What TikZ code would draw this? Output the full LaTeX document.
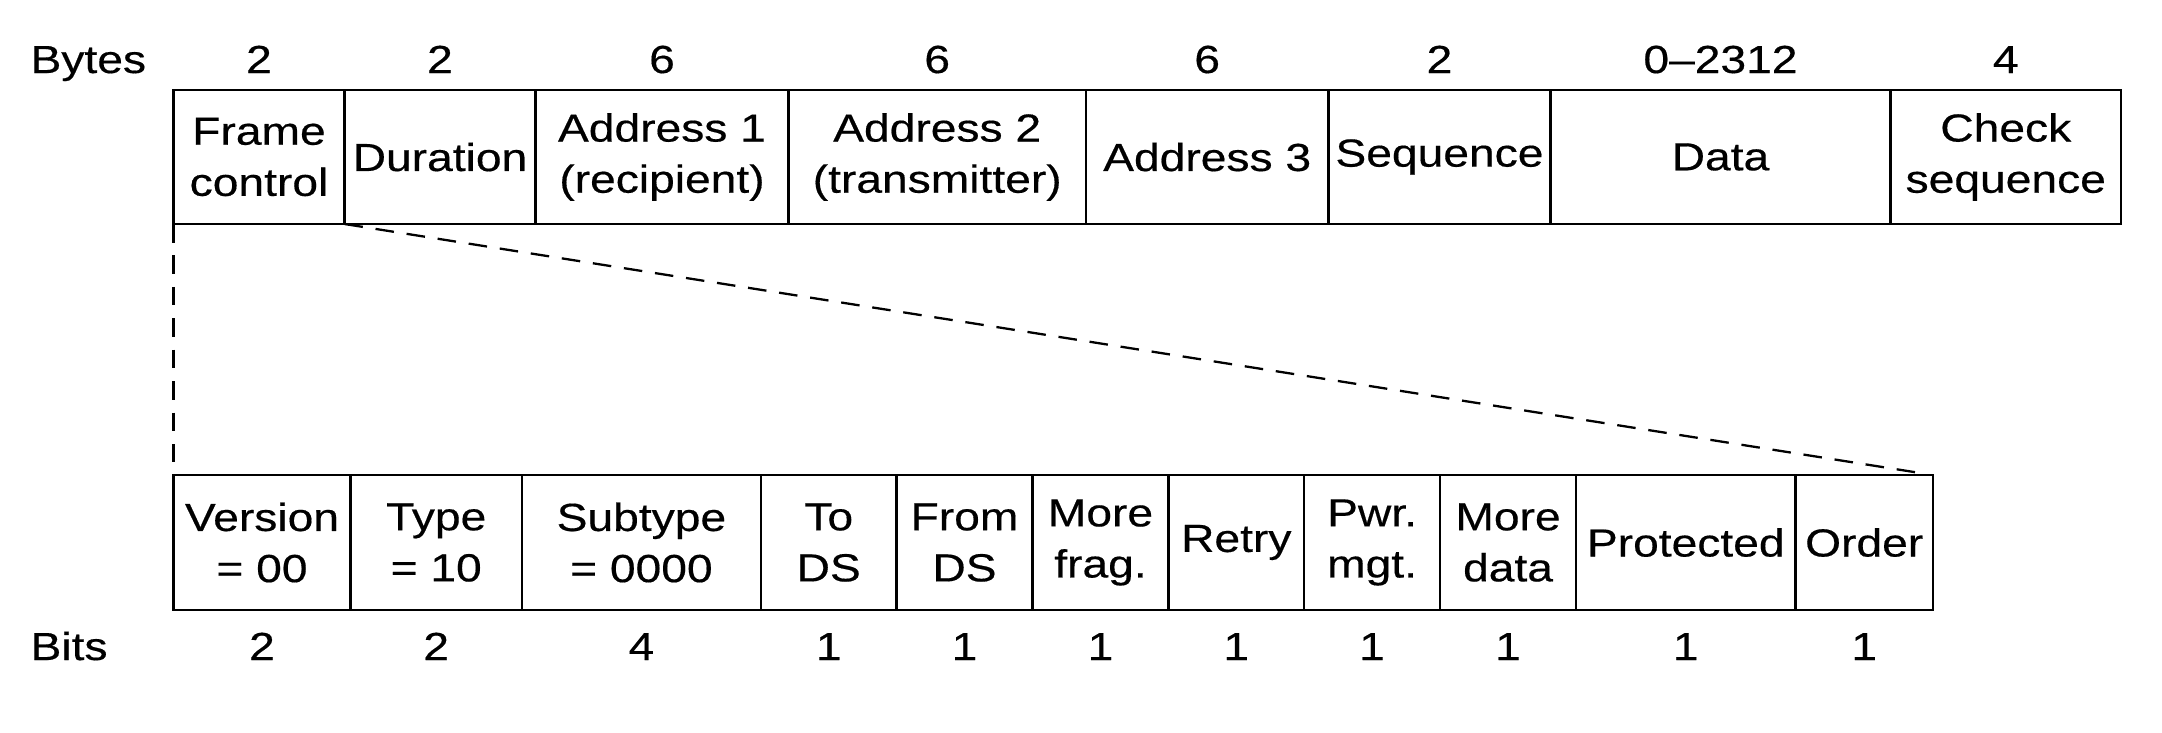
\documentclass[tikz,border=0pt]{standalone}
\usepackage{fontspec}
\setmainfont{Liberation Sans}[FakeStretch=1.18, FakeBold=0.4]

\tikzset{
  every node/.style={font=\fontsize{13.7}{17.9}\selectfont},
  field/.style={draw, line width=0.9pt, inner sep=0pt, outer sep=0pt,
    align=center, anchor=north west},
  toprow/.style={field, minimum height=46.9pt},
  botrow/.style={field, minimum height=47.25pt},
  num/.style={anchor=base, inner sep=0pt},
  dashline/.style={line width=0.8pt, dash pattern=on 6.5pt off 4.5pt}
}

\begin{document}
\begin{tikzpicture}[x=0.35pt, y=-0.35pt]
\useasboundingbox (0,0) rectangle (2162,732);
\coordinate (bytebase) at (0,73);
\coordinate (bitbase) at (0,660);

% frame fields
\node[toprow, minimum width=59.85pt] (fc) at (173.5,90) {Frame\\control};
\node[toprow, minimum width=66.85pt] (du) at (fc.north east) {Duration};
\node[toprow, minimum width=88.55pt] (ad1) at (du.north east) {Address 1\\(recipient)};
\node[toprow, minimum width=104.1pt] (ad2) at (ad1.north east) {Address 2\\(transmitter)};
\node[toprow, minimum width=84.9pt] (ad3) at (ad2.north east) {Address 3};
\node[toprow, minimum width=77.7pt] (sq) at (ad3.north east) {Sequence};
\node[toprow, minimum width=119pt] (dat) at (sq.north east) {Data};
\node[toprow, minimum width=80.7pt] (chk) at (dat.north east) {Check\\sequence};

\node[num, anchor=base west] (byteslbl) at (30,73) {Bytes};
\node[num] (nfc) at (fc.center |- bytebase) {2};
\node[num] (ndu) at (du.center |- bytebase) {2};
\node[num] (nad1) at (ad1.center |- bytebase) {6};
\node[num] (nad2) at (ad2.center |- bytebase) {6};
\node[num] (nad3) at (ad3.center |- bytebase) {6};
\node[num] (nsq) at (sq.center |- bytebase) {2};
\node[num] (ndat) at (dat.center |- bytebase) {0--2312};
\node[num] (nchk) at (chk.center |- bytebase) {4};

% frame control fields
\node[botrow, minimum width=61.95pt] (ver) at (173.5,475) {Version\\= 00};
\node[botrow, minimum width=60pt] (typ) at (ver.north east) {Type\\= 10};
\node[botrow, minimum width=83.65pt] (sub) at (typ.north east) {Subtype\\= 0000};
\node[botrow, minimum width=47.45pt] (tds) at (sub.north east) {To\\DS};
\node[botrow, minimum width=47.6pt] (fds) at (tds.north east) {From\\DS};
\node[botrow, minimum width=47.6pt] (mfr) at (fds.north east) {More\\frag.};
\node[botrow, minimum width=47.45pt] (rty) at (mfr.north east) {Retry};
\node[botrow, minimum width=47.6pt] (pwr) at (rty.north east) {Pwr.\\mgt.};
\node[botrow, minimum width=47.6pt] (mda) at (pwr.north east) {More\\data};
\node[botrow, minimum width=76.8pt] (prt) at (mda.north east) {Protected};
\node[botrow, minimum width=48.1pt] (ord) at (prt.north east) {Order};

\node[num, anchor=base west] (bitslbl) at (30,660) {Bits};
\node[num] (nver) at (ver.center |- bitbase) {2};
\node[num] (ntyp) at (typ.center |- bitbase) {2};
\node[num] (nsub) at (sub.center |- bitbase) {4};
\node[num] (ntds) at (tds.center |- bitbase) {1};
\node[num] (nfds) at (fds.center |- bitbase) {1};
\node[num] (nmfr) at (mfr.center |- bitbase) {1};
\node[num] (nrty) at (rty.center |- bitbase) {1};
\node[num] (npwr) at (pwr.center |- bitbase) {1};
\node[num] (nmda) at (mda.center |- bitbase) {1};
\node[num] (nprt) at (prt.center |- bitbase) {1};
\node[num] (nord) at (ord.center |- bitbase) {1};

% zoom lines
\draw[dashline, shorten >=4.5pt] (fc.south west) -- (ver.north west);
\draw[dashline, shorten >=4pt] (du.south west) -- (ord.north east);
\end{tikzpicture}
\end{document}
